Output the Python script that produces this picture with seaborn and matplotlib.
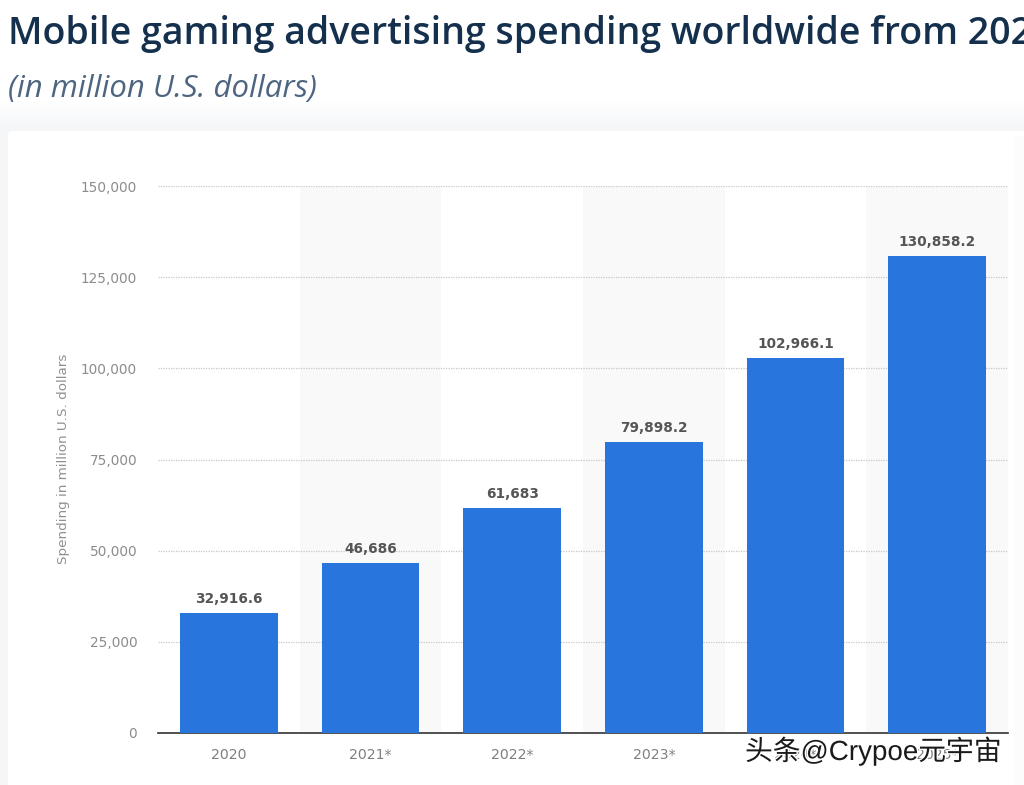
import pandas as pd
import seaborn as sns
from matplotlib import patheffects
from matplotlib import pyplot as plt
from matplotlib.patches import FancyBboxPatch, Rectangle

years = ["2020", "2021*", "2022*", "2023*", "2024*", "2025*"]
spending = [32916.6, 46686, 61683, 79898.2, 102966.1, 130858.2]
value_labels = ["32,916.6", "46,686", "61,683", "79,898.2", "102,966.1", "130,858.2"]
y_ticks = [0, 25000, 50000, 75000, 100000, 125000, 150000]

W, H = 1024, 785

sns.set_theme(style="white")
plt.rcParams["font.family"] = ["DejaVu Sans"]

df = pd.DataFrame({"year": years, "spending": spending})

fig = plt.figure(figsize=(W / 100, H / 100), dpi=100, facecolor="white")

# page background: white header fading into the grey behind the card
bg = fig.add_axes([0, 0, 1, 1], zorder=0)
bg.set_xlim(0, W)
bg.set_ylim(H, 0)
bg.axis("off")
bg.add_patch(Rectangle((0, 100), W, H - 100, color="#f5f6f8", lw=0, zorder=1))
for i in range(30):
    bg.add_patch(Rectangle((0, 100 + i), W, 1, color="white", alpha=1 - i / 30, lw=0, zorder=1.5))
bg.add_patch(FancyBboxPatch((8, 131), W + 20, H, boxstyle="round,pad=0,rounding_size=5",
                            fc="white", ec="none", zorder=2))
# faint edge of the neighbouring panel
bg.add_patch(Rectangle((1014, 136), 10, H, color="#fcfcfd", lw=0, zorder=3))

ax = fig.add_axes([158 / W, (H - 733) / H, 850 / W, 547 / H], zorder=1)
ax.patch.set_alpha(0)

# alternating column bands
for i in range(1, len(years), 2):
    ax.axvspan(i - 0.5, i + 0.5, color="#f9f9fa", lw=0, zorder=0)

sns.barplot(data=df, x="year", y="spending", color="#2975de", saturation=1, width=0.69,
            linewidth=0, ax=ax, zorder=3)

for i, v in enumerate(spending):
    ax.text(i, v + 2700, value_labels[i], ha="center", va="baseline", fontsize=9.8,
            fontweight="bold", color="#555555", zorder=4)

ax.set_xlim(-0.5, 5.5)
ax.set_ylim(0, 150000)
ax.set_yticks(y_ticks)
ax.set_yticklabels([f"{t:,}" for t in y_ticks])
ax.yaxis.grid(True, linestyle=(0, (1, 1)), color="#c8c8c8", lw=0.9, zorder=1)
ax.xaxis.grid(False)
ax.set_axisbelow(True)
ax.tick_params(axis="y", length=0, pad=15, labelsize=9.8, labelcolor="#8c8c8c")
ax.tick_params(axis="x", length=0, pad=10.5, labelsize=10.2, labelcolor="#808080")
ax.set_xlabel("")
ax.set_ylabel("Spending in million U.S. dollars", fontsize=9.7, color="#909090", va="center")
ax.yaxis.set_label_coords((63 - 158) / 850, (733 - 459) / 547)
sns.despine(ax=ax, left=True)
ax.spines["bottom"].set_color("#333333")
ax.spines["bottom"].set_linewidth(1.2)

fig.text(8 / W, 1 - 44 / H, "Mobile gaming advertising spending worldwide from 2020 to 2025",
         fontsize=27, fontweight=600, family="Open Sans", color="#14304d", va="baseline", ha="left")
fig.text(8 / W, 1 - 97 / H, "(in million U.S. dollars)", fontsize=22.4, fontstyle="italic",
         family="Open Sans", color="#4d6580", va="baseline", ha="left")

# watermark over the axis labels
mark = fig.text(745 / W, 1 - 760 / H, "头条@Crypoe元宇宙", fontsize=20, color="#1a1a1a",
                family=["Liberation Sans", "Noto Sans CJK SC"], va="baseline", ha="left", zorder=5)
mark.set_path_effects([patheffects.withStroke(linewidth=2, foreground="white")])

plt.savefig("out.png", dpi=100)
